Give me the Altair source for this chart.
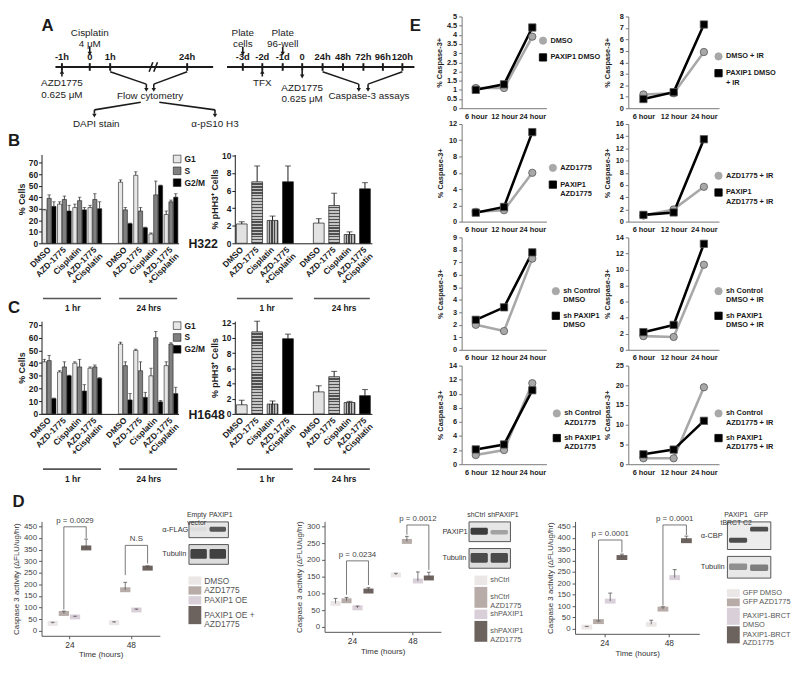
import altair as alt
import pandas as pd

FONT = "Liberation Sans"
INK = "#1b1b1b"

# ======================= A : schematic timelines =======================
tl_left_pos = [25, 55, 77, 160]
tl_left_lab = ["-1h", "0", "1h", "24h"]
tl_right_pos = [220, 241, 263, 284, 306, 328, 350, 371, 392]
tl_right_lab = ["-3d", "-2d", "-1d", "0", "24h", "48h", "72h", "96h", "120h"]
tl_spans = [(18, 188), (203, 405)]
TL_Y = 61
a_notes = [
    ("Cisplatin", 55, 25), ("4 μM", 55, 37),
    ("AZD1775", 25, 78), ("0.625 μM", 25, 90),
    ("Flow cytometry", 120, 91),
    ("DAPI stain", 62, 121), ("α-pS10 H3", 190, 121),
    ("Plate", 220, 25), ("cells", 220, 37),
    ("Plate", 263, 25), ("96-well", 263, 37),
    ("TFX", 241, 78),
    ("AZD1775", 284, 83), ("0.625 μM", 284, 95),
    ("Caspase-3 assays", 356, 92),
]
a_lines = [
    (77, 66, 116, 79), (160, 66, 124, 79), (116, 79, 116, 83), (124, 79, 124, 83),
    (110, 98, 60, 106), (60, 106, 60, 110), (130, 98, 190, 106), (190, 106, 190, 110),
    (306, 66, 345, 79), (392, 66, 355, 79), (345, 79, 345, 83), (355, 79, 355, 83),
    (55, 40, 55, 46), (220, 40, 220, 46), (263, 40, 263, 46),
    (25, 66, 25, 71), (241, 66, 241, 71), (284, 65, 284, 70),
    (119, 66, 123, 56), (124, 66, 128, 56),
]
a_heads = [
    (116, 85, "triangle-down"), (124, 85, "triangle-down"),
    (60, 112, "triangle-down"), (190, 112, "triangle-down"),
    (345, 85, "triangle-down"), (355, 85, "triangle-down"),
    (55, 47, "triangle-down"), (220, 47, "triangle-down"), (263, 47, "triangle-down"),
    (25, 66, "triangle-up"), (241, 66, "triangle-up"), (284, 71, "triangle-down"),
]
a_letters = [("A", 3, 18), ("E", 400, 18)]

# ======================= B / C : cell cycle & pHH3 =======================
TREATS = ["DMSO", "AZD-1775", "Cisplatin", "AZD-1775~+Cisplatin"]
TIMES = ["1 hr", "24 hrs"]
PHASES = ["G1", "S", "G2/M"]
PHASE_COLORS = ["#e6e6e6", "#808080", "#000000"]

h322_g1 = [29, 34, 31, 31, 53, 59, 8, 25]
h322_g1_err = [0.5, 2, 3, 2, 2, 3, 1, 3]
h322_s = [39, 38, 37, 38, 29, 28, 42, 36]
h322_s_err = [3, 3, 3, 5, 2, 3, 12, 1.5]
h322_g2m = [32, 28, 29, 30, 17, 13.5, 50, 40]
h322_g2m_err = [4, 5, 2, 6, 0.5, 0.5, 0.5, 3]

h1648_g1 = [41, 33, 40, 36, 55, 50, 30, 38]
h1648_g1_err = [2, 1, 1, 1, 1.5, 1, 6, 3]
h1648_s = [42, 37, 37, 37, 38, 34, 60, 55]
h1648_s_err = [4, 4, 6, 1.5, 3, 7, 5, 1]
h1648_g2m = [12, 30, 18, 28, 11, 13, 9.5, 16]
h1648_g2m_err = [0.5, 0.5, 5, 0.5, 5, 4, 1, 5]

h322_phh3 = [2.2, 7.0, 2.6, 7.0, 2.3, 4.3, 1.0, 6.2]
h322_phh3_err = [0.25, 1.8, 0.5, 1.8, 0.5, 1.4, 0.3, 0.7]
h1648_phh3 = [1.2, 10.8, 1.3, 9.9, 2.9, 4.9, 1.5, 2.4]
h1648_phh3_err = [0.6, 1.4, 0.4, 0.6, 0.8, 0.7, 0.15, 0.8]

# ======================= E : caspase-3 time courses =======================
E_TIMES = ["6 hour", "12 hour", "24 hour"]
e1_names = ["DMSO", "PAXIP1 DMSO"]
e1_gray, e1_black = [1.1, 1.1, 3.9], [1.0, 1.3, 4.4]
e2_names = ["DMSO + IR", "PAXIP1 DMSO~+ IR"]
e2_gray, e2_black = [1.2, 1.3, 4.9], [0.8, 1.4, 7.3]
e3_names = ["AZD1775", "PAXIP1~AZD1775"]
e3_gray, e3_black = [1.2, 1.4, 6.0], [1.1, 1.8, 11.0]
e4_names = ["AZD1775 + IR", "PAXIP1~AZD1775 + IR"]
e4_gray, e4_black = [1.0, 2.0, 5.7], [1.1, 1.5, 13.5]
e5_names = ["sh Control~DMSO", "sh PAXIP1~DMSO"]
e5_gray, e5_black = [2.0, 1.5, 7.3], [2.4, 3.4, 7.8]
e6_names = ["sh Control~DMSO + IR", "sh PAXIP1~DMSO + IR"]
e6_gray, e6_black = [1.7, 1.6, 10.6], [2.2, 3.1, 13.2]
e7_names = ["sh Control~AZD1775", "sh PAXIP1~AZD1775"]
e7_gray, e7_black = [1.3, 2.0, 11.5], [2.1, 2.8, 10.5]
e8_names = ["sh Control~AZD1775 + IR", "sh PAXIP1~AZD1775 + IR"]
e8_gray, e8_black = [1.5, 1.5, 19.5], [2.5, 3.7, 11.0]

# ======================= D : caspase-3 activity =======================
d1_series = ["DMSO", "AZD1775", "PAXIP1 OE", "PAXIP1 OE +~AZD1775"]
d1_24, d1_24_err = [32, 75, 60, 357], [5, 10, 3, 38]
d1_48, d1_48_err = [35, 177, 90, 270], [4, 32, 4, 10]
d1_brackets = [("p = 0.0029", 0, 1, 3, 448, 92, 400), ("N.S", 1, 1, 3, 368, 240, 290)]

d2_series = ["shCtrl", "shCtrl~AZD1775", "shPAXIP1", "shPAXIP1~AZD1775"]
d2_24, d2_24_err = [70, 78, 57, 107], [15, 10, 5, 10]
d2_48, d2_48_err = [155, 255, 137, 146], [5, 15, 27, 17]
d2_brackets = [("p = 0.0234", 0, 1, 3, 197, 96, 125), ("p = 0.0012", 1, 1, 3, 304, 275, 170)]

d3_series = ["GFP DMSO", "GFP AZD1775", "PAXIP1-BRCT~DMSO", "PAXIP1-BRCT~AZD1775"]
d3_24, d3_24_err = [8, 32, 122, 313], [3, 3, 35, 15]
d3_48, d3_48_err = [20, 87, 225, 387], [18, 10, 35, 20]
d3_brackets = [("p = 0.0001", 0, 1, 3, 390, 40, 335), ("p = 0.0001", 1, 1, 3, 456, 102, 412)]

D_COLORS = ["#ece7e7", "#b7aca8", "#d9cfd9", "#6c625e"]
D_GROUP_START = [0.0, 5.5]


# ---------------------------------------------------------------------
def stripes(c1, c2, n, vertical, frac=0.55):
    stops = []
    for k in range(n):
        a, b, c = k / n, (k + frac) / n, (k + 1) / n
        stops += [{"offset": a, "color": c1}, {"offset": b, "color": c1},
                  {"offset": b, "color": c2}, {"offset": c, "color": c2}]
    g = {"gradient": "linear", "stops": stops}
    if vertical:
        g.update({"x1": 0, "y1": 0, "x2": 1, "y2": 0})
    else:
        g.update({"x1": 0, "y1": 0, "x2": 0, "y2": 1})
    return g


def text_at(txt, dx, dy, size, weight="bold", align="left", baseline="alphabetic", opacity=1):
    return alt.Chart(pd.DataFrame({"t": [txt]})).mark_text(
        fontSize=size, fontWeight=weight, align=align, baseline=baseline, color=INK,
        opacity=opacity
    ).encode(x=alt.value(dx), y=alt.value(dy), text="t:N")


def panel_A(w=380, h=114):
    sx = alt.Scale(domain=[3, 407], nice=False, zero=False)
    sy = alt.Scale(domain=[8, 126], reverse=True, nice=False, zero=False)
    segs = [(a, TL_Y, b, TL_Y, 2.2) for a, b in tl_spans]
    segs += [(p, TL_Y - 4, p, TL_Y + 4, 2.0) for p in tl_left_pos + tl_right_pos]
    segs += [tuple(s) + (1.6,) for s in a_lines]
    seg = pd.DataFrame(segs, columns=["x", "y", "x2", "y2", "sw"])

    def X(f):
        return alt.X(f, scale=sx, axis=None)

    def Y(f):
        return alt.Y(f, scale=sy, axis=None)

    rules = alt.Chart(seg).mark_rule(color=INK).encode(
        x=X("x:Q"), y=Y("y:Q"), x2="x2:Q", y2="y2:Q",
        strokeWidth=alt.StrokeWidth("sw:Q", scale=None))
    heads = alt.Chart(pd.DataFrame(a_heads, columns=["x", "y", "shp"])).mark_point(
        filled=True, size=20, color=INK, opacity=1).encode(
        x=X("x:Q"), y=Y("y:Q"), shape=alt.Shape("shp:N", scale=None))
    tdf = pd.DataFrame({"x": tl_left_pos + tl_right_pos, "lab": tl_left_lab + tl_right_lab})
    tdf["y"] = TL_Y - 5
    tick_txt = alt.Chart(tdf).mark_text(fontSize=9.5, fontWeight="bold", baseline="bottom",
                                        color=INK).encode(x=X("x:Q"), y=Y("y:Q"), text="lab:N")
    notes = alt.Chart(pd.DataFrame(a_notes, columns=["t", "x", "y"])).mark_text(
        fontSize=10, color=INK, baseline="middle").encode(x=X("x:Q"), y=Y("y:Q"), text="t:N")
    letters = alt.Chart(pd.DataFrame(a_letters, columns=["t", "x", "y"])).mark_text(
        fontSize=17, fontWeight="bold", align="left", baseline="middle", color=INK).encode(
        x=X("x:Q"), y=Y("y:Q"), text="t:N")
    return alt.layer(rules, heads, tick_txt, notes, letters).properties(width=w, height=h)


CATS = [f"1:{t}" for t in TREATS] + ["g:"] + [f"2:{t}" for t in TREATS]
CATS_DATA = [c for c in CATS if c != "g:"]


def x_axis_plain():
    return alt.Axis(title=None, labels=False, ticks=False, domainColor=INK)


def y_axis(vals, title, title_pad=2):
    return alt.Axis(values=vals, title=title, titleFontSize=9, titleFontWeight="bold",
                    titleColor=INK, labelFontSize=8.5, labelFontWeight="bold", labelColor=INK,
                    tickSize=3, tickColor=INK, domainColor=INK, titlePadding=title_pad,
                    labelPadding=1, grid=False)


def category_layers(xs, xa, h):
    lab = pd.DataFrame({"cat": CATS_DATA, "lab": [c[2:] for c in CATS_DATA]})
    labels = alt.Chart(lab).mark_text(angle=315, align="right", baseline="middle", fontSize=8.5,
                                      fontWeight="bold", color=INK, lineBreak="~",
                                      lineHeight=9).encode(
        x=alt.X("cat:N", scale=xs, axis=xa, sort=None), y=alt.value(h + 5), text="lab:N")
    grp = pd.DataFrame({"lab": TIMES, "first": [CATS_DATA[0], CATS_DATA[4]],
                        "last": [CATS_DATA[3], CATS_DATA[7]], "mid": [CATS_DATA[2], CATS_DATA[6]]})
    g_rule = alt.Chart(grp).mark_rule(color="#555", strokeWidth=1.6).encode(
        x=alt.X("first:N", scale=xs, bandPosition=0.05, axis=xa, sort=None),
        x2=alt.X2("last:N", bandPosition=0.95), y=alt.value(h + 56))
    g_text = alt.Chart(grp).mark_text(fontSize=8.5, fontWeight="bold", baseline="top",
                                      color=INK).encode(
        x=alt.X("mid:N", scale=xs, bandPosition=0, axis=xa, sort=None),
        y=alt.value(h + 62), text="lab:N")
    return [labels, g_rule, g_text]


def cycle_chart(g1, g1e, s, se, g2, g2e, ymax, w, h, extras):
    vals = {"G1": (g1, g1e), "S": (s, se), "G2/M": (g2, g2e)}
    rows = []
    for i, cat in enumerate(CATS_DATA):
        for ph in PHASES:
            v, e = vals[ph][0][i], vals[ph][1][i]
            rows.append({"cat": cat, "phase": ph, "v": v, "top": v + e})
    df = pd.DataFrame(rows)
    xs = alt.Scale(domain=CATS, paddingInner=0.1, paddingOuter=0.05)
    xa = x_axis_plain()
    ys = alt.Scale(domain=[0, ymax], nice=False)
    ya = y_axis(list(range(0, 71, 10)), "% Cells")
    xo = alt.XOffset("phase:N", scale=alt.Scale(domain=PHASES, paddingInner=0.12), sort=None)
    leg = alt.Legend(orient="none", legendX=w - 6, legendY=0, title=None, symbolType="square",
                     symbolSize=60, symbolStrokeColor=INK, symbolStrokeWidth=0.6,
                     labelFontSize=8.5, labelFontWeight="bold", labelColor=INK, rowPadding=1,
                     labelOffset=3)
    xe = alt.X("cat:N", scale=xs, axis=xa, sort=None)
    bars = alt.Chart(df).mark_bar(stroke=INK, strokeWidth=0.6).encode(
        x=xe, xOffset=xo, y=alt.Y("v:Q", scale=ys, axis=ya),
        color=alt.Color("phase:N", scale=alt.Scale(domain=PHASES, range=PHASE_COLORS), legend=leg))
    eb = alt.Chart(df).encode(x=xe, xOffset=xo)
    err = eb.mark_rule(color=INK, strokeWidth=0.8).encode(
        y=alt.Y("v:Q", scale=ys, axis=ya), y2="top:Q")
    cap = eb.mark_tick(color=INK, thickness=0.8, size=3.5).encode(
        y=alt.Y("top:Q", scale=ys, axis=ya))
    layers = [bars, err, cap] + category_layers(xs, xa, h) + extras
    return alt.layer(*layers).properties(width=w, height=h)


def phh_chart(vals, errs, ymax, yvals, w, h, extras):
    df = pd.DataFrame({"cat": CATS_DATA, "v": vals, "top": [v + e for v, e in zip(vals, errs)]})
    xs = alt.Scale(domain=CATS, paddingInner=0.3, paddingOuter=0.1)
    xa = x_axis_plain()
    ys = alt.Scale(domain=[0, ymax], nice=False)
    ya = y_axis(yvals, "% pHH3⁺ Cells", title_pad=2)
    xe = alt.X("cat:N", scale=xs, axis=xa, sort=None)
    layers = []
    for i in range(8):
        kind = i % 4
        px = vals[i] / ymax * h
        if kind == 0:
            fill = "#e2e2e2"
        elif kind == 1:
            fill = stripes("#c4c4c4", "#505050", max(2, round(px / 3.0)), False)
        elif kind == 2:
            fill = stripes("#b8b8b8", "#454545", 4, True)
        else:
            fill = "#000000"
        layers.append(alt.Chart(df.iloc[[i]]).mark_bar(fill=fill, stroke=INK, strokeWidth=0.7)
                      .encode(x=xe, y=alt.Y("v:Q", scale=ys, axis=ya)))
    eb = alt.Chart(df).encode(x=xe)
    layers.append(eb.mark_rule(color=INK, strokeWidth=1).encode(
        y=alt.Y("v:Q", scale=ys, axis=ya), y2="top:Q"))
    layers.append(eb.mark_tick(color=INK, thickness=1, size=6).encode(
        y=alt.Y("top:Q", scale=ys, axis=ya)))
    layers += category_layers(xs, xa, h) + extras
    return alt.layer(*layers).properties(width=w, height=h)


def e_panel(names, gray, black, ymax, step, w, h, leg_x, leg_y):
    df = pd.DataFrame({"t": E_TIMES * 2, "s": [names[0]] * 3 + [names[1]] * 3, "v": gray + black})
    xe = alt.X("t:N", sort=E_TIMES, scale=alt.Scale(domain=E_TIMES, type="point", padding=0.5),
               axis=alt.Axis(title=None, labelAngle=0, labelFontSize=7.5, labelFontWeight="bold",
                             ticks=False, domainColor="#777", labelColor=INK, labelPadding=4))
    n = int(round(ymax / step))
    yvals = [round(k * step, 2) for k in range(n + 1)]
    ye = alt.Y("v:Q", scale=alt.Scale(domain=[0, ymax], nice=False),
               axis=alt.Axis(values=yvals, format="~g", title="% Caspase-3+", titleFontSize=7.5,
                             titleFontWeight="bold", titleColor=INK, labelFontSize=7.5,
                             labelFontWeight="bold", labelColor=INK, tickSize=3, tickColor="#777",
                             domainColor="#777", titlePadding=3, minExtent=14, grid=False))
    leg = alt.Legend(orient="none", legendX=leg_x, legendY=leg_y, title=None,
                     labelExpr="split(datum.label, '~')", labelFontSize=7.5,
                     labelFontWeight="bold", labelColor=INK, symbolSize=55,
                     symbolStrokeWidth=0.8, rowPadding=6, labelOffset=3)
    cs = alt.Scale(domain=names, range=["#a8a8a8", "#000000"])
    ss = alt.Scale(domain=names, range=["circle", "square"])
    line = alt.Chart(df).mark_line(strokeWidth=2.6).encode(
        x=xe, y=ye, color=alt.Color("s:N", scale=cs, legend=leg))
    pts = alt.Chart(df).mark_point(filled=True, size=55, opacity=1, stroke="#555",
                                   strokeWidth=0.8).encode(
        x=xe, y=ye, color=alt.Color("s:N", scale=cs, legend=leg),
        shape=alt.Shape("s:N", scale=ss, legend=leg))
    return alt.layer(line, pts).properties(width=w, height=h)


def d_bar(series, v24, e24, v48, e48, ymax, ystep, w, h, brackets, title):
    rows = []
    for g, (vals, errs) in enumerate([(v24, e24), (v48, e48)]):
        for i, s in enumerate(series):
            p = D_GROUP_START[g] + i
            rows.append({"s": s, "x0": p - 0.46, "x1": p + 0.46, "xc": p, "c0": p - 0.17,
                         "c1": p + 0.17, "v": vals[i], "top": vals[i] + errs[i]})
    df = pd.DataFrame(rows)
    xs = alt.Scale(domain=[-1.0, 9.6], nice=False, zero=False)
    ys = alt.Scale(domain=[0, ymax], nice=False)
    xa = alt.Axis(values=[1.5, 7.0], labelExpr="datum.value < 4 ? '24' : '48'",
                  title="Time (hours)", titleFontSize=8, titleFontWeight="normal",
                  titleColor="#333", labelFontSize=8.5, labelColor="#333", tickSize=3,
                  tickColor="#555", domainColor="#555", titlePadding=2, grid=False)
    ya = alt.Axis(values=list(range(0, ymax + 1, ystep)), title="Caspase 3 activity (ΔFLU/ug/hr)",
                  titleFontSize=8, titleFontWeight="normal", titleColor="#333",
                  labelFontSize=8, labelColor="#444", tickSize=3, tickColor="#555",
                  domainColor="#555", titlePadding=3, grid=False)
    bars = alt.Chart(df).mark_bar().encode(
        x=alt.X("x0:Q", scale=xs, axis=xa), x2="x1:Q",
        y=alt.Y("v:Q", scale=ys, axis=ya),
        color=alt.Color("s:N", scale=alt.Scale(domain=series, range=D_COLORS), legend=None))
    err = alt.Chart(df).mark_rule(color="#555", strokeWidth=0.8).encode(
        x=alt.X("xc:Q", scale=xs, axis=xa), y=alt.Y("v:Q", scale=ys, axis=ya), y2="top:Q")
    cap = alt.Chart(df).mark_rule(color="#555", strokeWidth=0.8).encode(
        x=alt.X("c0:Q", scale=xs, axis=xa), x2="c1:Q", y=alt.Y("top:Q", scale=ys, axis=ya))
    segs, labs = [], []
    for lab, g, sa, sb, ytop, ya_, yb_ in brackets:
        xa_, xb_ = D_GROUP_START[g] + sa, D_GROUP_START[g] + sb
        segs += [(xa_, ytop, xb_, ytop), (xa_, ya_, xa_, ytop), (xb_, yb_, xb_, ytop)]
        labs.append((lab, (xa_ + xb_) / 2, ytop))
    sdf = pd.DataFrame(segs, columns=["x", "y", "x2", "y2"])
    ldf = pd.DataFrame(labs, columns=["t", "x", "y"])
    br = alt.Chart(sdf).mark_rule(color="#555", strokeWidth=0.8).encode(
        x=alt.X("x:Q", scale=xs, axis=xa), x2="x2:Q",
        y=alt.Y("y:Q", scale=ys, axis=ya), y2="y2:Q")
    bl = alt.Chart(ldf).mark_text(fontSize=8, color="#444", baseline="bottom", dy=-2).encode(
        x=alt.X("x:Q", scale=xs, axis=xa), y=alt.Y("y:Q", scale=ys, axis=ya), text="t:N")
    return alt.layer(bars, err, cap, br, bl).properties(width=w, height=h, title=title)


def blot(lanes, lane_dx, rows, lane_w, top_pad=None):
    charts = []
    xs = alt.Scale(domain=lanes, paddingInner=0.14, paddingOuter=0.1)
    for r_i, (name, hgt, bands, bg) in enumerate(rows):
        df = pd.DataFrame(bands, columns=["lane", "yc", "th", "op"])
        df["y0"] = df.yc - df.th / 2
        df["y1"] = df.yc + df.th / 2
        c = alt.Chart(df).mark_rect(color="#262626", cornerRadius=1.5).encode(
            x=alt.X("lane:N", scale=xs, axis=None, sort=None),
            y=alt.Y("y0:Q", scale=alt.Scale(domain=[0, 1], nice=False),
                    axis=alt.Axis(labels=False, ticks=False, domain=False, grid=False, title=name,
                                  titleAngle=0, titleAlign="left", titleBaseline="middle",
                                  titleX=-27, titleY=hgt / 2, titleFontSize=7.5,
                                  titleFontWeight="normal", titleColor="#333")),
            y2="y1:Q", opacity=alt.Opacity("op:Q", scale=None))
        layers = [c]
        if r_i == 0:
            for lane, dx in zip(lanes, lane_dx):
                layers.append(alt.Chart(pd.DataFrame({"lane": [lane]})).mark_text(
                    fontSize=7, baseline="bottom", lineBreak="~", dx=dx, color="#333",
                    lineHeight=7.5).encode(
                    x=alt.X("lane:N", scale=xs, axis=None, sort=None), y=alt.value(-3),
                    text="lane:N"))
        props = dict(width=lane_w, height=hgt,
                     view=alt.ViewBackground(fill=bg, stroke="#555", strokeWidth=1))
        ch = alt.layer(*layers).properties(**props)
        if r_i == 0 and top_pad:
            ch = ch.properties(title=alt.TitleParams(" ", fontSize=top_pad[0], offset=top_pad[1]))
        charts.append(ch)
    return alt.vconcat(*charts, spacing=5)


def d_legend(series, dx, fs, line_h, w=30):
    rows, y = [], 0
    for s in series:
        n = s.count("~") + 1
        rows.append({"s": s, "y0": y + 0.08, "y1": y + n - 0.08, "ym": y + n / 2})
        y += n
    df = pd.DataFrame(rows)
    ys = alt.Scale(domain=[0, y], reverse=True, nice=False)
    sw = alt.Chart(df).mark_rect().encode(
        x=alt.value(dx), x2=alt.value(dx + 13), y=alt.Y("y0:Q", scale=ys, axis=None), y2="y1:Q",
        color=alt.Color("s:N", scale=alt.Scale(domain=series, range=D_COLORS), legend=None))
    tx = alt.Chart(df).mark_text(align="left", baseline="middle", fontSize=fs, color="#555",
                                 lineBreak="~", lineHeight=fs + 1).encode(
        x=alt.value(dx + 16), y=alt.Y("ym:Q", scale=ys, axis=None), text="s:N")
    return alt.layer(sw, tx).properties(width=w, height=y * line_h)


# ======================= build panels =======================
A = panel_A()

BW, BH, CH = 139, 90, 94
B1 = cycle_chart(h322_g1, h322_g1_err, h322_s, h322_s_err, h322_g2m, h322_g2m_err, 77, BW, BH,
                 [text_at("B", -34, -9, 17), text_at("C", -34, BH + 71, 17),
                  text_at("H322", BW + 10, BH + 5, 12.5),
                  text_at("H1648", BW + 10, BH + 5, 12.5, opacity=0)])
B2 = phh_chart(h322_phh3, h322_phh3_err, 10.1, [0, 2, 4, 6, 8, 10], BW, BH,
               [text_at("B", 0, -9, 17, opacity=0)])
C1 = cycle_chart(h1648_g1, h1648_g1_err, h1648_s, h1648_s_err, h1648_g2m, h1648_g2m_err, 73,
                 BW, CH, [text_at("H1648", BW + 10, CH + 5, 12.5),
                          text_at("C", -34, 12, 17, opacity=0)])
C2 = phh_chart(h1648_phh3, h1648_phh3_err, 12.2, [0, 2, 4, 6, 8, 10, 12], BW, CH, [])

brow = alt.hconcat(B1, B2, spacing=-15).resolve_scale(color="independent")
crow = alt.hconcat(C1, C2, spacing=-15).resolve_scale(color="independent")
left = alt.vconcat(A, brow, crow, spacing=2).resolve_scale(color="independent")

W1, W2 = 86, 92
e_specs = [
    e_panel(e1_names, e1_gray, e1_black, 5, 0.5, W1, 93, W1 - 8, 20),
    e_panel(e2_names, e2_gray, e2_black, 8, 1, W2, 93, W2 - 5, 36),
    e_panel(e3_names, e3_gray, e3_black, 12, 2, W1, 99, W1 + 2, 40),
    e_panel(e4_names, e4_gray, e4_black, 16, 2, W2, 99, W2 - 5, 48),
    e_panel(e5_names, e5_gray, e5_black, 9, 1, W1, 114, W1 + 5, 50),
    e_panel(e6_names, e6_gray, e6_black, 14, 2, W2, 114, W2 - 5, 50),
    e_panel(e7_names, e7_gray, e7_black, 14, 2, W1, 100, W1 + 6, 44),
    e_panel(e8_names, e8_gray, e8_black, 25, 5, W2, 100, W2 - 5, 44),
]
E = alt.concat(*e_specs, columns=2, spacing={"row": 0, "column": 2},
               align="each").resolve_scale(color="independent", shape="independent")

top = alt.hconcat(left, E, spacing=14).resolve_scale(color="independent", shape="independent")

# ---- D ----
D1 = d_bar(d1_series, d1_24, d1_24_err, d1_48, d1_48_err, 450, 50, 120, 116, d1_brackets,
           alt.TitleParams("D", anchor="start", fontSize=17, fontWeight="bold", color=INK, offset=6))
D2 = d_bar(d2_series, d2_24, d2_24_err, d2_48, d2_48_err, 300, 50, 118, 112, d2_brackets,
           alt.TitleParams(" ", anchor="start", fontSize=17, offset=9))
D3 = d_bar(d3_series, d3_24, d3_24_err, d3_48, d3_48_err, 450, 50, 126, 114, d3_brackets,
           alt.TitleParams(" ", anchor="start", fontSize=17, offset=10))

blot1 = blot(["Empty~vector", "PAXIP1"], [-2, 3], [
    ("α-FLAG", 16, [("Empty~vector", 0.5, 0.25, 0.05), ("PAXIP1", 0.5, 0.32, 0.75)], "#e6e6e6"),
    ("Tubulin", 20, [("Empty~vector", 0.5, 0.5, 0.85), ("PAXIP1", 0.5, 0.5, 0.85)], "#dcdcdc"),
], 40, top_pad=(6, 3))
blot2 = blot(["shCtrl", "shPAXIP1"], [-3, 4], [
    ("PAXIP1", 20, [("shCtrl", 0.5, 0.36, 0.88), ("shPAXIP1", 0.45, 0.22, 0.35)], "#e6e6e6"),
    ("Tubulin", 20, [("shCtrl", 0.5, 0.5, 0.8), ("shPAXIP1", 0.5, 0.5, 0.8)], "#dcdcdc"),
], 42, top_pad=(8, 4))
blot3 = blot(["PAXIP1~tBRCT C2", "GFP"], [-2, 2], [
    ("α-CBP", 28, [("PAXIP1~tBRCT C2", 0.32, 0.18, 0.8), ("GFP", 0.72, 0.18, 0.8)], "#ececec"),
    ("Tubulin", 22, [("PAXIP1~tBRCT C2", 0.5, 0.3, 0.45), ("GFP", 0.45, 0.3, 0.55)], "#e8e8e8"),
], 44)

D1c = alt.hconcat(D1, alt.vconcat(blot1, d_legend(d1_series, 0, 8.5, 10.0), spacing=11), spacing=1)
D2c = alt.hconcat(D2, alt.vconcat(blot2, d_legend(d2_series, 6, 7.5, 11.5), spacing=6), spacing=0)
D3c = alt.hconcat(D3, alt.vconcat(blot3, d_legend(d3_series, 0, 7.5, 9.4), spacing=10), spacing=0)
d12 = alt.hconcat(D1c, D2c, spacing=40).resolve_scale(color="independent")
drow = alt.hconcat(d12, D3c, spacing=22).resolve_scale(color="independent")

chart = alt.vconcat(top, drow, spacing=3).resolve_scale(
    color="independent", shape="independent"
).properties(padding=0).configure(font=FONT).configure_view(stroke=None).configure_axis(
    labelFont=FONT, titleFont=FONT
).configure_legend(labelFont=FONT).configure_text(font=FONT).configure_title(font=FONT)

chart.save("out.html", embed_options={"renderer": "svg", "actions": False})
